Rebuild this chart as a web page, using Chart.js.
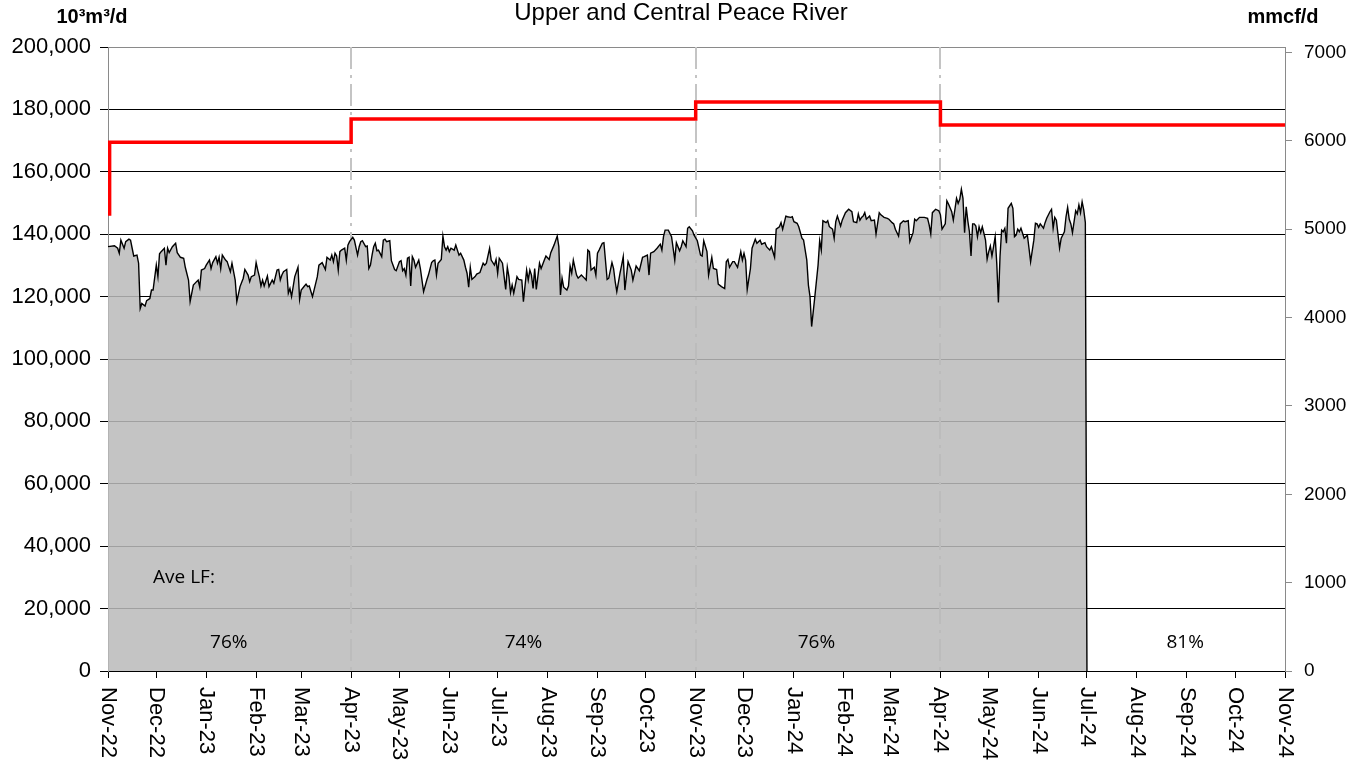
<!DOCTYPE html>
<html>
<head>
<meta charset="utf-8">
<script src="https://cdn.jsdelivr.net/npm/chart.js@4.4.1/dist/chart.umd.min.js"></script>
<style>
  html, body { margin: 0; padding: 0; background: #fff; }
  #wrap { width: 1363px; height: 765px; position: relative; }
</style>
</head>
<body>
<div id="wrap"><canvas id="chart"></canvas></div>
<script>
// x axis is days since 1 Nov 2022
const monthDays = [0, 30, 61, 92, 120, 151, 181, 212, 242, 273, 304, 334, 365, 395, 426, 457, 486, 517, 547, 578, 608, 639, 670, 700, 731];
const monthLabels = ["Nov-22", "Dec-22", "Jan-23", "Feb-23", "Mar-23", "Apr-23", "May-23", "Jun-23", "Jul-23", "Aug-23", "Sep-23", "Oct-23",
  "Nov-23", "Dec-23", "Jan-24", "Feb-24", "Mar-24", "Apr-24", "May-24", "Jun-24", "Jul-24", "Aug-24", "Sep-24", "Oct-24", "Nov-24"];

// daily throughput, 10^3 m3/d (values in thousands)
const flowDays = [
  0, 4, 6, 7, 8, 10, 11, 13, 14, 15, 16, 18, 19, 20, 21, 23, 24, 26, 27, 28, 30, 31, 32, 33, 35, 36, 37, 38, 40, 42, 43, 45, 47, 48, 50, 51, 53, 55, 56, 57, 58, 60,
  61, 63, 64, 65, 67, 68, 69, 70, 71, 73, 74, 76, 77, 79, 80, 82, 84, 85, 87, 88, 89, 91, 92, 93, 94, 95, 96, 97, 99, 100, 102, 103, 105, 106, 107, 108, 109, 111,
  112, 113, 114, 116, 118, 119, 120, 122, 123, 124, 125, 127, 130, 131, 133, 135, 136, 138, 139, 140, 141, 142, 143, 144, 145, 147, 148, 149, 150, 152, 153,
  155, 156, 157, 158, 160, 161, 162, 163, 164, 165, 166, 167, 168, 170, 171, 172, 173, 175, 176, 178, 179, 181, 182, 183, 184, 185, 186, 187, 188, 189, 190,
  191, 193, 194, 195, 196, 198, 199, 201, 202, 203, 204, 205, 207, 208, 209, 210, 211, 212, 213, 215, 216, 218, 219, 221, 222, 223, 224, 225, 226, 228, 229,
  231, 233, 234, 235, 237, 238, 240, 241, 242, 243, 245, 247, 248, 249, 250, 251, 252, 254, 255, 257, 258, 260, 261, 262, 263, 264, 265, 266, 268, 269, 271,
  272, 274, 275, 277, 279, 280, 281, 282, 283, 285, 286, 287, 288, 289, 291, 292, 294, 295, 297, 298, 299, 300, 302, 303, 304, 305,
  307, 308, 310, 311, 313, 314, 315, 316, 318, 319, 320, 321, 323, 325, 326, 328, 330, 332, 333, 335, 336, 337, 339, 341, 343, 344, 345, 346, 348, 350, 352,
  353, 355, 356, 357, 359, 360, 361, 363, 364, 366, 368, 369, 370, 372, 373, 375, 376, 378, 379, 381, 383, 384, 385, 386, 388, 389, 391, 393, 394, 395, 396,
  397, 399, 400, 402, 403, 405, 406, 408, 409, 411, 412, 414, 415, 417, 418, 419, 421, 422, 424, 425, 426, 428, 429, 431, 432, 434, 435, 436, 437, 439, 441,
  442, 443, 444, 446, 447, 448, 450, 451, 452, 453,
  455, 456, 458, 460, 462, 463, 465, 466, 467, 468, 469, 470, 471, 473, 474, 476, 477, 479, 480, 482, 484, 485, 487, 488, 489, 491, 492, 494, 495, 497, 498,
  500, 501, 502, 504, 505, 507, 509, 510, 511, 512, 514, 516, 517, 518, 520, 521, 522, 524, 525, 526, 527, 528, 529, 530, 531, 532, 533, 534, 535, 536, 537,
  538, 539, 540, 541, 542, 543, 544, 545, 546, 547, 548, 549, 550, 551, 552, 553, 554, 555, 556, 557, 558, 559, 561, 562, 563, 564, 565, 566, 567, 568, 569,
  571, 572, 573, 575, 576, 577, 578, 579, 581, 582, 583, 585, 586, 587, 588, 589, 591, 592, 594, 595, 596, 597, 598, 599, 601, 602, 603, 604, 605, 606, 607, 608
];
const flowValues = [
  136.0, 136.3, 135.5, 133.9, 138.1, 135.5, 137.6, 138.4, 138.1, 135.5, 133.0, 133.3, 130.7, 116.2, 117.8, 117.0, 118.7, 119.4, 122.1, 122.1, 130.1, 126.4,
  133.7, 134.4, 135.5, 130.1, 135.5, 134.1, 136.0, 137.1, 134.1, 132.6, 132.3, 129.4, 125.3, 118.4, 123.7, 124.8, 125.3, 123.0, 128.5, 129.0,
  130.1, 131.7, 129.0, 130.9, 132.8, 130.7, 132.6, 129.0, 133.3, 131.7, 131.2, 128.0, 130.7, 125.3, 118.4, 123.2, 125.9, 128.7, 126.9, 124.8, 126.4, 126.9,
  130.9, 128.5, 126.4, 123.4, 125.3, 123.4, 126.6, 123.2, 125.3, 124.3, 128.5, 128.7, 125.3, 126.9, 128.0, 128.7,
  121.1, 122.6, 120.0, 126.4, 129.4, 119.1, 122.1, 123.4, 124.0, 123.2, 123.4, 120.0, 126.4, 130.1, 130.9, 128.7, 132.6, 131.7, 133.3, 131.2, 133.9, 133.0,
  128.5, 134.4, 134.9, 135.5, 131.7, 136.5, 137.6, 139.0, 138.1,
  133.3, 136.0, 137.6, 137.9, 136.0, 136.2, 129.0, 130.1, 133.3, 136.0, 137.1, 134.7, 134.9, 132.8, 138.1, 138.4, 137.6, 137.9, 131.5, 128.7, 128.3, 131.2,
  131.5, 128.3, 129.0, 126.9, 132.3, 132.6, 123.4, 132.8, 131.7,
  129.4, 131.7, 129.0, 125.3, 121.6, 125.3, 126.9, 130.9, 131.5, 131.7, 126.9, 130.7, 131.9, 139.4, 136.0, 134.9, 136.0, 134.4, 135.5, 134.9, 136.5, 133.3,
  133.9, 131.7, 129.4, 127.5, 123.0, 129.4, 125.5, 126.4, 127.2,
  127.7, 130.7, 130.1, 130.7, 135.5, 131.7, 130.1, 131.9, 127.5, 132.3, 130.7, 122.3, 129.4, 126.4, 121.3, 123.7, 121.1, 126.4, 125.5, 125.3, 118.4, 128.5,
  125.3, 128.5, 126.9, 122.6, 129.0, 122.3, 130.7, 129.0, 131.7,
  133.0, 131.9, 134.1, 136.5, 139.4, 136.0, 120.5, 125.9, 123.0, 122.1, 123.4, 129.8, 127.5, 131.7, 126.9, 125.9, 126.9, 126.4, 125.3, 134.9, 134.4, 128.5,
  129.4, 126.9, 133.9, 134.9,
  137.1, 137.3, 125.5, 125.9, 130.9, 129.0, 124.8, 121.6, 127.5, 130.1, 132.8, 122.1, 131.2, 128.5, 125.3, 129.8, 128.3, 132.6, 132.8, 133.3, 126.9, 133.9,
  134.4, 135.5, 136.8, 134.9, 139.2, 141.3, 141.3, 139.2, 131.7,
  137.3, 134.7, 136.0, 137.9, 136.0, 141.9, 142.4, 141.1, 139.7, 137.9, 133.3, 133.0, 137.9, 134.4, 126.9, 132.6, 129.0, 128.7, 124.0, 123.2, 122.6, 131.2,
  131.9, 129.4, 131.2, 131.2, 129.4, 134.4, 131.7, 133.9, 131.7,
  122.3, 129.0, 135.5, 138.4, 137.1, 138.1, 136.8, 137.3, 136.0, 134.9, 136.0, 132.6, 141.6, 142.4, 143.7, 141.6, 145.8, 145.6, 145.4, 145.6, 144.0, 143.5,
  142.4, 138.7, 138.1, 131.7, 123.7, 120.0, 110.4, 120.0, 130.1,
  137.9, 134.9, 144.3, 143.7, 144.3, 142.4, 141.6, 138.7, 144.0, 145.8,
  142.6, 144.5, 146.9, 148.0, 147.2, 144.0, 143.7, 146.5, 144.5, 145.4, 145.8, 146.9, 144.8, 145.8, 144.3, 144.5, 140.1, 146.9, 146.2, 145.4, 145.1, 144.8,
  143.7, 143.3, 141.6, 139.4, 143.3, 144.3, 144.0, 144.3, 137.6,
  140.5, 144.8, 144.3, 145.4, 145.4, 145.4, 145.1, 143.0, 140.1, 146.9, 148.0, 147.5, 146.2, 141.6, 143.3, 150.7, 149.7, 147.2, 144.5, 148.0, 151.5, 149.9,
  151.2, 154.4, 151.5, 140.5, 148.8, 144.3, 140.8, 133.0, 143.3,
  143.3, 142.6, 139.2, 142.4, 140.5, 142.4, 140.3, 138.1, 132.0, 134.4, 136.2, 133.0, 136.0, 139.2, 130.5, 118.1, 132.8, 141.3, 140.8, 141.9, 137.1, 148.3,
  149.9, 148.3, 139.2, 139.7, 141.6, 140.8, 141.9, 140.3, 138.7,
  139.7, 135.5, 131.2, 138.1, 143.5, 143.3, 142.2, 143.3, 141.9, 143.7, 145.1, 147.2, 148.0, 141.9, 145.4, 144.5, 135.5, 138.7, 140.8, 145.6, 148.6, 144.8,
  143.3, 140.5, 147.5, 146.5, 149.4, 146.9, 150.4, 147.8, 143.7, 0
];

// capacity, 10^3 m3/d
const capacityDays = [0, 1, 151, 365, 517, 731];
const capacityValues = [146500, 169500, 176900, 182400, 175000, 175000];

const leftTicks = [0, 20000, 40000, 60000, 80000, 100000, 120000, 140000, 160000, 180000, 200000];
const rightTicks = [0, 1000, 2000, 3000, 4000, 5000, 6000, 7000];
const dividerDays = [151, 365, 517];
const lfDays = [75, 258, 440, 669];
const lfLabels = ["76%", "74%", "76%", "81%"];

const E3M3_PER_MMCF = 28.3168;
const FONT = "'Liberation Sans', Arial, sans-serif";

Chart.defaults.font.family = FONT;
Chart.defaults.color = "#000";

const decor = {
  id: "decor",
  beforeDatasetsDraw(chart) {
    const { ctx, chartArea, scales } = chart;
    ctx.save();
    ctx.strokeStyle = "#c4c4c4";
    ctx.lineWidth = 2;
    ctx.setLineDash([22, 6, 3, 6]);
    dividerDays.forEach((d) => {
      const x = Math.round(scales.x.getPixelForValue(d));
      ctx.beginPath();
      ctx.moveTo(x, chartArea.top);
      ctx.lineTo(x, chartArea.bottom);
      ctx.stroke();
    });
    ctx.restore();
  },
  afterDatasetsDraw(chart) {
    const { ctx, scales } = chart;
    ctx.save();
    ctx.fillStyle = "#000";
    ctx.font = "19px 'Open Sans'";
    ctx.textBaseline = "middle";
    ctx.textAlign = "left";
    ctx.fillText("Ave LF:", scales.x.getPixelForValue(28), scales.y.getPixelForValue(29800));
    ctx.textAlign = "center";
    lfDays.forEach((d, i) => {
      ctx.fillText(lfLabels[i], scales.x.getPixelForValue(d), scales.y.getPixelForValue(9000));
    });
    ctx.restore();
  },
  afterDraw(chart) {
    const { ctx, scales } = chart;
    ctx.save();
    ctx.fillStyle = "#000";
    ctx.textBaseline = "middle";
    ctx.textAlign = "center";
    ctx.font = "24px " + FONT;
    ctx.fillText("Upper and Central Peace River", 681, 13);
    ctx.font = "bold 20px " + FONT;
    ctx.fillText("10\u00b3m\u00b3/d", 92, 17);
    ctx.fillText("mmcf/d", 1283, 17);
    // month labels, turned to read downwards
    ctx.font = "22px " + FONT;
    ctx.textAlign = "left";
    monthDays.forEach((d, i) => {
      ctx.save();
      ctx.translate(scales.x.getPixelForValue(d), 687);
      ctx.rotate(Math.PI / 2);
      ctx.fillText(monthLabels[i], 0, 0);
      ctx.restore();
    });
    ctx.restore();
  },
};

new Chart(document.getElementById("chart"), {
  type: "line",
  data: {
    datasets: [
      {
        label: "Capacity",
        data: capacityDays.map((d, i) => ({ x: d, y: capacityValues[i] })),
        borderColor: "#ff0000",
        borderWidth: 3.5,
        stepped: "before",
        pointRadius: 0,
        fill: false,
        yAxisID: "y",
      },
      {
        label: "Throughput",
        data: flowDays.map((d, i) => ({ x: d, y: flowValues[i] * 1000 })),
        borderColor: "#000",
        borderWidth: 1.4,
        backgroundColor: "rgba(186,186,186,0.86)",
        fill: "origin",
        tension: 0,
        pointRadius: 0,
        yAxisID: "y",
      },
    ],
  },
  options: {
    responsive: true,
    maintainAspectRatio: false,
    animation: false,
    layout: { padding: { top: 47, left: 0, right: 0, bottom: 0 } },
    plugins: { legend: { display: false }, tooltip: { enabled: false } },
    scales: {
      x: {
        type: "linear",
        min: 0,
        max: 731,
        afterBuildTicks: (s) => { s.ticks = monthDays.map((v) => ({ value: v })); },
        afterFit: (s) => { s.height = 94; },
        ticks: {
          autoSkip: false,
          minRotation: 90,
          maxRotation: 90,
          color: "rgba(0,0,0,0)",
          font: { size: 22 },
          callback: (v) => monthLabels[monthDays.indexOf(v)] || "",
        },
        grid: { drawOnChartArea: false, tickLength: 7, tickColor: "#000" },
        border: { color: "#000" },
      },
      y: {
        position: "left",
        min: 0,
        max: 200000,
        afterBuildTicks: (s) => { s.ticks = leftTicks.map((v) => ({ value: v })); },
        afterFit: (s) => { s.width = 108; },
        ticks: {
          font: { size: 22 },
          color: "#000",
          padding: 9,
          callback: (v) => v.toLocaleString("en-US"),
        },
        grid: {
          color: (c) => (c.tick && c.tick.value === 200000 ? "#8a8a8a" : "#000"),
          tickColor: "#000",
          tickLength: 8,
        },
        border: { color: "#8a8a8a" },
      },
      y1: {
        position: "right",
        min: 0,
        max: 200000 / E3M3_PER_MMCF,
        afterBuildTicks: (s) => { s.ticks = rightTicks.map((v) => ({ value: v })); },
        afterFit: (s) => { s.width = 78; },
        ticks: { font: { size: 19 }, color: "#000", padding: 12, callback: (v) => String(v) },
        grid: { drawOnChartArea: false, tickLength: 7, tickColor: "#8a8a8a" },
        border: { color: "#8a8a8a" },
      },
    },
  },
  plugins: [decor],
});
</script>
</body>
</html>
